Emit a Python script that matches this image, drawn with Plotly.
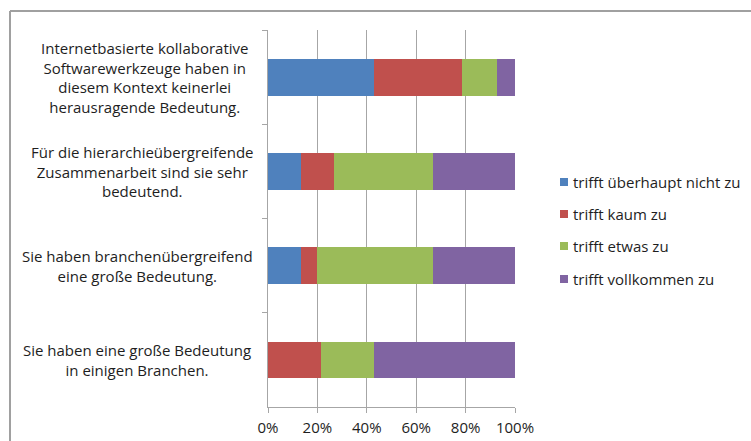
import plotly.graph_objects as go

# Survey statements (top to bottom) and answer shares in percent
statements = [
    "Internetbasierte kollaborative<br>Softwarewerkzeuge haben in<br>diesem Kontext keinerlei<br>herausragende Bedeutung.",
    "Für die hierarchieübergreifende<br>Zusammenarbeit sind sie sehr<br>bedeutend.",
    "Sie haben branchenübergreifend<br>eine große Bedeutung.",
    "Sie haben eine große Bedeutung<br>in einigen Branchen.",
]
series_names = [
    "trifft überhaupt nicht zu",
    "trifft kaum zu",
    "trifft etwas zu",
    "trifft vollkommen zu",
]
ueberhaupt_nicht = [42.9, 13.3, 13.3, 0.0]
kaum = [35.7, 13.3, 6.7, 21.4]
etwas = [14.3, 40.0, 46.7, 21.4]
vollkommen = [7.1, 33.3, 33.3, 57.2]
series_values = [ueberhaupt_nicht, kaum, etwas, vollkommen]
colors = ["#4F81BD", "#C0504D", "#9BBB59", "#8064A2"]

W, H = 751, 441
L, R, T, B = 268, 515, 30, 407  # plot area in pixels
FONT = "'Open Sans', sans-serif"
TEXT = "#1e1e1e"
GRID = "#a6a6a6"


def px_x(px):
    return (px - L) / (R - L)


def px_y(py):
    return (B - py) / (B - T)


fig = go.Figure()
for name, vals, col in zip(series_names, series_values, colors):
    fig.add_trace(go.Bar(
        name=name,
        y=statements,
        x=[v / 100 for v in vals],
        orientation="h",
        marker=dict(color=col, line=dict(width=0)),
        showlegend=False,
    ))

# category labels, centred line by line
label_centers = [144, 142, 137, 137]
annotations = []
for s, cx in zip(statements, label_centers):
    annotations.append(dict(
        x=px_x(cx), xref="paper", y=s, yref="y",
        text=s, showarrow=False, xanchor="center", yanchor="middle",
        align="center", font=dict(family=FONT, size=15, color=TEXT),
    ))

# legend: small squares with labels
shapes = []
legend_y = [182, 214, 246, 279]
for name, col, ly in zip(series_names, colors, legend_y):
    shapes.append(dict(
        type="rect", xref="paper", yref="paper",
        x0=px_x(560), x1=px_x(568), y0=px_y(ly + 4), y1=px_y(ly - 4),
        fillcolor=col, line=dict(width=0),
    ))
    annotations.append(dict(
        x=px_x(571), xref="paper", y=px_y(ly), yref="paper",
        text=name, showarrow=False, xanchor="left", yanchor="middle",
        font=dict(family=FONT, size=15, color=TEXT),
    ))

# outer chart frame (top and left edges)
shapes.append(dict(type="line", xref="paper", yref="paper",
                   x0=px_x(10), x1=px_x(W + 5), y0=px_y(11), y1=px_y(11),
                   line=dict(color="#a0a0a0", width=2)))
shapes.append(dict(type="line", xref="paper", yref="paper",
                   x0=px_x(10), x1=px_x(10), y0=px_y(11), y1=px_y(H + 5),
                   line=dict(color="#a0a0a0", width=2)))

fig.update_layout(
    width=W, height=H,
    margin=dict(l=L, r=W - R, t=T, b=H - B, pad=0, autoexpand=False),
    barmode="stack",
    bargap=0.61,
    plot_bgcolor="white",
    paper_bgcolor="white",
    showlegend=False,
    annotations=annotations,
    shapes=shapes,
    font=dict(family=FONT, size=15, color=TEXT),
)
fig.update_xaxes(
    range=[0, 1], tickformat=".0%", dtick=0.2, tick0=0,
    showgrid=True, gridcolor=GRID, gridwidth=1,
    showline=True, linecolor=GRID, linewidth=1,
    ticks="outside", ticklen=5, tickcolor=GRID,
    ticklabelstandoff=2, automargin=False,
    tickfont=dict(family=FONT, size=15, color=TEXT),
    zeroline=False,
)
fig.update_yaxes(
    autorange="reversed", showticklabels=False, automargin=False,
    showline=True, linecolor=GRID, linewidth=1,
    ticks="outside", ticklen=5, tickcolor=GRID, tickson="boundaries",
    showgrid=False, zeroline=False,
)

fig.write_html("out.html")
